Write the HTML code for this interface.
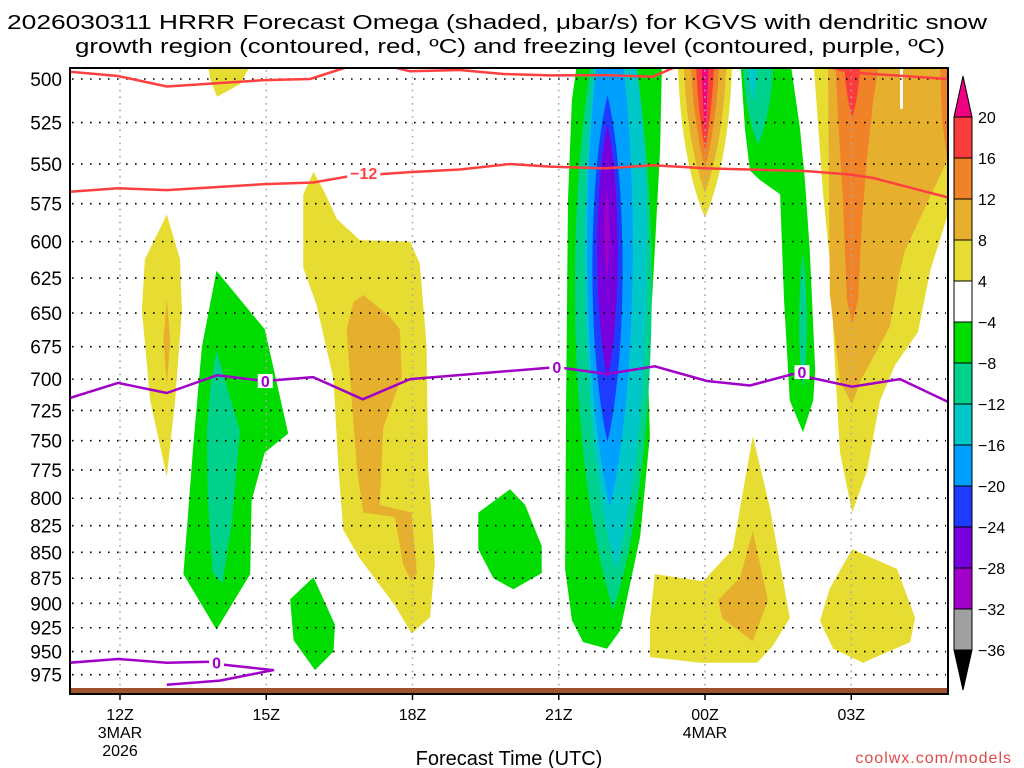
<!DOCTYPE html>
<html><head><meta charset="utf-8"><style>
html,body{margin:0;padding:0;background:#fff;}
svg{display:block;font-family:"Liberation Sans","DejaVu Sans",sans-serif;}
</style></head><body>
<svg id="chart" width="1024" height="768" viewBox="0 0 1024 768" xmlns="http://www.w3.org/2000/svg">
<rect width="1024" height="768" fill="#fff"/>
<text x="497" y="29" font-size="20" text-anchor="middle" textLength="980" lengthAdjust="spacingAndGlyphs">2026030311 HRRR Forecast Omega (shaded, μbar/s) for KGVS with dendritic snow</text>
<text x="510" y="53" font-size="20" text-anchor="middle" textLength="870" lengthAdjust="spacingAndGlyphs">growth region (contoured, red, ºC) and freezing level (contoured, purple, ºC)</text>
<defs><clipPath id="plotclip"><rect x="70" y="68" width="878" height="626"/></clipPath></defs>
<g id="fills" clip-path="url(#plotclip)"></g>
<g id="grid"></g>
<g id="lines" clip-path="url(#plotclip)"></g>
<rect x="70" y="688" width="878" height="6" fill="#a0522d"/>
<rect x="70" y="68" width="878" height="626" fill="none" stroke="#000" stroke-width="2"/>
<g id="axes"></g>
<g id="cbar"></g>
<text x="509" y="765" font-size="20" text-anchor="middle">Forecast Time (UTC)</text>
<text x="1012" y="763" font-size="16" text-anchor="end" fill="#e04848" letter-spacing="1">coolwx.com/models</text>
</svg>
<script>
// ---- data ----
const timeTicks = [0,3,6,9,12,15];
const timeLabels = ["12Z","15Z","18Z","21Z","00Z","03Z"];
const dateLabels = [["3MAR","2026"],[],[],[],["4MAR"],[]];
const pressureTicks = [500,525,550,575,600,625,650,675,700,725,750,775,800,825,850,875,900,925,950,975];
const cbarLevels = [20,16,12,8,4,-4,-8,-12,-16,-20,-24,-28,-32,-36];
const cbarColors = ["#fa3c3c","#f08228","#e6af2d","#e6dc32","#ffffff","#00dc00","#00d28c","#00c8c8","#00a0ff","#1e3cff","#7800dc","#a000c8","#a0a0a0"];
const levelColor = {20:"#f00082",16:"#fa3c3c",12:"#f08228",8:"#e6af2d",4:"#e6dc32",0:"#ffffff",
  "-8":"#00dc00","-12":"#00d28c","-16":"#00c8c8","-20":"#00a0ff","-24":"#1e3cff","-28":"#7800dc","-32":"#a000c8"};

const yellowA = [[1.78,488],[2.77,488],[2.46,503],[1.99,510],[1.85,500]];
const yellowB = [[0.96,582],[1.23,612],[1.27,648],[1.13,717],[0.96,781],[0.62,717],[0.45,648],[0.51,612]];
const goldB = [[0.96,640],[1.03,670],[0.96,705],[0.89,670]];
const greenC = [[1.98,620],[2.97,662],[3.45,744],[2.97,760],[2.70,802],[2.67,871],[1.98,927],[1.30,871],[1.50,756],[1.68,675]];
const tealC = [[1.98,678],[2.3,720],[2.46,742],[2.3,820],[2.1,880],[1.9,870],[1.8,800],[1.78,742],[1.85,707]];
const greenD = [[3.97,874],[4.41,922],[4.38,950],[4.0,970],[3.56,938],[3.49,896]];
const yellowE = [[3.97,555],[4.17,566],[4.45,585],[4.92,599],[5.95,600],[6.15,615],[6.29,675],[6.32,773],[6.46,860],[6.36,914],[5.98,931],[5.64,902],[4.92,856],[4.58,829],[4.48,773],[4.38,700],[4.03,644],[3.76,618],[3.76,569]];
const goldE = [[4.99,637],[5.54,653],[5.74,662],[5.78,698],[5.40,739],[5.33,806],[5.98,813],[6.09,870],[5.98,878],[5.81,862],[5.64,817],[4.99,813],[4.86,773],[4.75,716],[4.65,662],[4.79,642]];
const greenF = [[8.0,792],[8.31,806],[8.65,844],[8.65,870],[8.07,886],[7.66,875],[7.35,847],[7.35,813]];
const greenG = [[9.39,488],[11.12,488],[11.08,541],[10.97,606],[10.83,693],[10.87,746],[10.67,835],[10.26,928],[9.99,947],[9.50,940],[9.27,917],[9.13,866],[9.15,717],[9.19,572],[9.27,512]];
const greenI = [[12.72,488],[13.74,488],[13.95,529],[14.05,560],[14.15,606],[14.26,693],[14.22,717],[14.01,743],[13.74,717],[13.62,640],[13.54,569],[13.13,560],[12.92,554],[12.82,529]];
const yellowJ = [[14.22,488],[16.98,488],[16.98,582],[16.62,620],[16.37,664],[15.90,689],[15.59,717],[15.32,776],[15.02,813],[14.77,760],[14.67,693],[14.56,613],[14.42,568]];
const goldJ = [[14.52,488],[16.98,488],[16.98,547],[16.10,606],[16.0,620],[15.79,660],[15.18,702],[15.02,720],[14.77,702],[14.56,636]];
const orangeJ = [[14.67,488],[15.59,488],[15.45,512],[15.32,547],[15.22,585],[15.14,640],[15.02,658],[14.91,640],[14.83,572],[14.73,523]];
const orangeJ2 = [[16.82,488],[16.98,488],[16.98,550],[16.86,523]];
const whiteSlit = [[16.0,488],[16.06,488],[16.06,517],[16.0,517]];
const yellowL1 = [[10.97,871],[11.96,878],[12.57,847],[12.98,746],[13.33,808],[13.74,915],[13.39,944],[13.07,962],[11.90,962],[10.87,956],[10.87,918]];
const goldL1 = [[12.98,830],[13.29,897],[12.98,939],[12.35,915],[12.27,897],[12.72,874]];
const yellowL2 = [[15.02,847],[15.94,866],[16.31,915],[16.21,940],[15.24,962],[14.63,947],[14.36,918],[14.56,885]];
// lenses: [centerHour, halfWidthHours, topPressure, bottomPressure, level]
const lensG = [[10.12,0.79,440,907,-12],[10.17,0.64,430,867,-16],[10.05,0.47,450,808,-20],[10.0,0.31,509,751,-24],[10.0,0.21,526,700,-28],[9.99,0.05,566,626,-32]];
const lensH = [[12.0,0.56,400,584,4],[12.0,0.45,400,568,8],[12.0,0.31,400,552,12],[12.0,0.21,400,541,16],[12.0,0.08,400,531,20]];
const lensI = [[13.09,0.31,440,538,-12],[14.01,0.08,608,708,-12],[12.98,0.1,460,512,-16]];
const lensJ = [[15.02,0.18,440,522,16]];

const redTopT = [-1.03,-0.04,0.96,2.97,3.9,4.66,5.5,5.95,6.97,7.86,8.82,9.95,10.93,11.34,12.5,14.0,15.04,16.98];
const redTopP = [495.9,498.3,504.2,500.6,500,493.3,492.7,495.7,495,497.2,498,497.8,498.7,493.9,490,490,496.4,500];
const red12T = [-1.03,-0.04,0.96,2.97,3.96,4.66,5.95,6.97,8.0,8.82,9.95,10.93,12.04,14.09,14.97,15.45,16.98];
const red12P = [567.4,565.2,566.3,562.5,561.5,557.8,555,553.4,550,551.6,552.7,550.8,552.7,554.4,556.5,558.7,571];
const frzT = [-1.03,-0.04,0.96,1.99,2.97,3.96,4.98,5.95,8.96,9.99,10.97,12.04,12.92,13.81,15.02,16.0,16.98];
const frzP = [715,703,711,697,701.5,698.4,716,700,690.6,696,690,701.5,705,696,706,700,718];
const frzLowT = [-1.03,-0.04,0.96,1.85,2.11,3.14,2.05,0.96];
const frzLowP = [962,958,962,961,964,970,981.5,986];

// ---- axes ----
const X0=120, XS=48.75, Y0=79, YS=892;
const xOf = t => X0 + t*XS;
const yOf = p => Y0 + YS*Math.log(p/500);
const NS="http://www.w3.org/2000/svg";
function mk(tag, attrs, parent){const e=document.createElementNS(NS,tag);for(const k in attrs)e.setAttribute(k,attrs[k]);parent.appendChild(e);return e;}

const fills=document.getElementById('fills');
function poly(pts,lvl,name){
  const d=pts.map((q,i)=>(i?'L':'M')+xOf(q[0]).toFixed(1)+' '+yOf(q[1]).toFixed(1)).join(' ')+' Z';
  const e=mk('path',{d:d,fill:levelColor[lvl]},fills);
  
  
}
function lens(L,name){
  const cx=xOf(L[0]), rx=L[1]*XS*1.33, yT=yOf(L[2]), yB=yOf(L[3]), h=yB-yT;
  const d=`M${cx} ${yT} C${cx+rx} ${yT+h*0.25} ${cx+rx} ${yB-h*0.25} ${cx} ${yB} C${cx-rx} ${yB-h*0.25} ${cx-rx} ${yT+h*0.25} ${cx} ${yT} Z`;
  const e=mk('path',{d:d,fill:levelColor[L[4]]},fills);
  
  
}
poly(yellowA,4,'rising-area-a');
poly(yellowB,4,'rising-area-b');
poly(goldB,8,'rising-core-b');
poly(greenC,-8,'sinking-area-c');
poly(tealC,-12,'sinking-core-c');
poly(greenD,-8,'sinking-area-d');
poly(yellowE,4,'rising-area-e');
poly(goldE,8,'rising-core-e');
poly(greenF,-8,'sinking-area-f');
poly(greenG,-8,'sinking-column-g');
lensG.forEach(L=>lens(L,'sinking-column-g-core'));
lensH.forEach(L=>lens(L,'rising-column-h'));
poly(greenI,-8,'sinking-column-i');
lensI.forEach(L=>lens(L,'sinking-column-i-core'));
poly(yellowJ,4,'rising-area-j');
poly(goldJ,8,'rising-area-j-gold');
poly(orangeJ,12,'rising-area-j-orange');
poly(orangeJ2,12,'rising-area-j-edge');
lensJ.forEach(L=>lens(L,'rising-area-j-red'));
poly(whiteSlit,0,'neutral-slit');
poly(yellowL1,4,'rising-area-l1');
poly(goldL1,8,'rising-core-l1');
poly(yellowL2,4,'rising-area-l2');

// grid
const grid=document.getElementById('grid');
pressureTicks.forEach(p=>{
  const e=mk('line',{x1:72,x2:946,y1:yOf(p),y2:yOf(p),stroke:'#000','stroke-width':1.6,'stroke-dasharray':'1.6 7.4'},grid);
  
  
});
timeTicks.forEach(t=>{
  const e=mk('line',{x1:xOf(t),x2:xOf(t),y1:70,y2:692,stroke:'#aaa','stroke-width':1.6,'stroke-dasharray':'1.6 5'},grid);
  
  
});

// contour lines
const lines=document.getElementById('lines');
function pl(T,P,color,name){
  const pts=T.map((t,i)=>xOf(t).toFixed(1)+','+yOf(P[i]).toFixed(1)).join(' ');
  const e=mk('polyline',{points:pts,fill:'none',stroke:color,'stroke-width':2.5,'stroke-linejoin':'round'},lines);
  
  
}
function lbl(t,p,txt,color,name){
  const x=xOf(t), y=yOf(p);
  const w=txt.length*9+6;
  const r=mk('rect',{x:x-w/2,y:y-7,width:w,height:14,fill:'#fff'},lines);
  
  
  const e=mk('text',{x:x,y:y+6,'font-size':16,'font-weight':'bold','text-anchor':'middle',fill:color},lines);
  e.textContent=txt;
  
  
}
pl(redTopT,redTopP,'#ff4040','dgz-top-contour');
pl(red12T,red12P,'#ff4040','minus12-contour');
pl(frzT,frzP,'#a000c8','freezing-level-contour');
pl(frzLowT,frzLowP,'#a000c8','freezing-level-low-contour');
lbl(5.0,555.5,'\u221212','#ff4040','minus12-label');
lbl(2.98,701.5,'0','#a000c8','freezing-label-1');
lbl(8.96,690.6,'0','#a000c8','freezing-label-2');
lbl(13.99,694.5,'0','#a000c8','freezing-label-3');
lbl(1.98,962,'0','#a000c8','freezing-label-4');

// axes labels
const axes=document.getElementById('axes');
pressureTicks.forEach(p=>{
  const e=mk('text',{x:62,y:yOf(p)+7,'font-size':19,'text-anchor':'end'},axes);
  e.textContent=p;
  
  
});
timeTicks.forEach((t,i)=>{
  mk('line',{x1:xOf(t),x2:xOf(t),y1:694,y2:700,stroke:'#000','stroke-width':1.5},axes);
  const e=mk('text',{x:xOf(t),y:720,'font-size':16,'text-anchor':'middle'},axes);
  e.textContent=timeLabels[i];
  
  
  dateLabels[i].forEach((s,j)=>{
    const d=mk('text',{x:xOf(t),y:738+j*18,'font-size':16,'text-anchor':'middle'},axes);
    d.textContent=s;
    
    
  });
});

// colorbar
const cb=document.getElementById('cbar');
const CX=954, CW=18, CT=117, CH=41;
mk('path',{d:`M${CX} ${CT} L${CX+CW/2} 76 L${CX+CW} ${CT} Z`,fill:'#f00082',stroke:'#000','stroke-width':1},cb);
cbarColors.forEach((c,i)=>{
  const r=mk('rect',{x:CX,y:CT+i*CH,width:CW,height:CH,fill:c,stroke:'#000','stroke-width':1},cb);
  
  
});
const bot=CT+cbarColors.length*CH;
mk('path',{d:`M${CX} ${bot} L${CX+CW/2} 690 L${CX+CW} ${bot} Z`,fill:'#000',stroke:'#000','stroke-width':1},cb);
cbarLevels.forEach((v,i)=>{
  const e=mk('text',{x:978,y:CT+i*CH+6,'font-size':16},cb);
  e.textContent=(v<0?'\u2212'+(-v):String(v));
  
  
});
</script>
</body></html>
